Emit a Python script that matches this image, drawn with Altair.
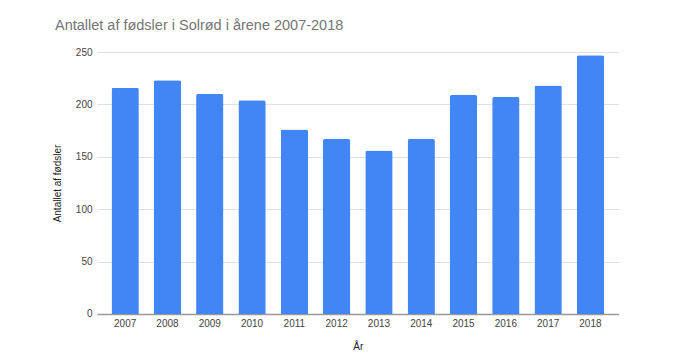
import altair as alt
import pandas as pd

years = ["2007", "2008", "2009", "2010", "2011", "2012", "2013", "2014", "2015", "2016", "2017", "2018"]
births = [216, 223, 210, 204, 176, 167, 156, 167, 209, 207, 218, 247]

df = pd.DataFrame({"year": years, "births": births})

FONT = "Liberation Sans"

chart = alt.Chart(df).mark_bar(
    color="#4285F4", cornerRadiusTopLeft=2, cornerRadiusTopRight=2
).encode(
    x=alt.X(
        "year:N",
        sort=years,
        scale=alt.Scale(paddingInner=0.354, paddingOuter=0.343),
        axis=alt.Axis(
            title="År",
            labelAngle=0,
            labelFont=FONT,
            labelFontSize=10,
            labelColor="#444444",
            labelPadding=5,
            ticks=False,
            domainColor="#999999",
            domainWidth=1.5,
            titleFont=FONT,
            titleFontSize=10,
            titleFontWeight="normal",
            titleColor="#222222",
            titleY=33,
            titleBaseline="middle",
        ),
    ),
    y=alt.Y(
        "births:Q",
        scale=alt.Scale(domain=[0, 250]),
        axis=alt.Axis(
            title="Antallet af fødsler",
            values=[0, 50, 100, 150, 200, 250],
            labelFont=FONT,
            labelFontSize=10,
            labelColor="#444444",
            labelPadding=5,
            ticks=False,
            domain=False,
            gridColor="#e0e0e0",
            gridWidth=1,
            titleFont=FONT,
            titleFontSize=10,
            titleFontWeight="normal",
            titleColor="#222222",
            titleAngle=-90,
            titleX=-39,
            titleY=131,
            titleAlign="center",
            titleBaseline="middle",
        ),
    ),
).properties(
    width=521.6,
    height=262,
    title=alt.TitleParams(
        "Antallet af fødsler i Solrød i årene 2007-2018",
        anchor="start",
        frame="group",
        dx=-42,
        offset=14,
        font=FONT,
        fontSize=14.5,
        fontWeight="normal",
        color="#757575",
    ),
    autosize=alt.AutoSizeParams(type="none"),
    padding={"left": 97, "top": 52, "right": 67, "bottom": 43},
).configure_view(stroke=None)

chart.save("out.html", embed_options={"renderer": "svg", "actions": False})
